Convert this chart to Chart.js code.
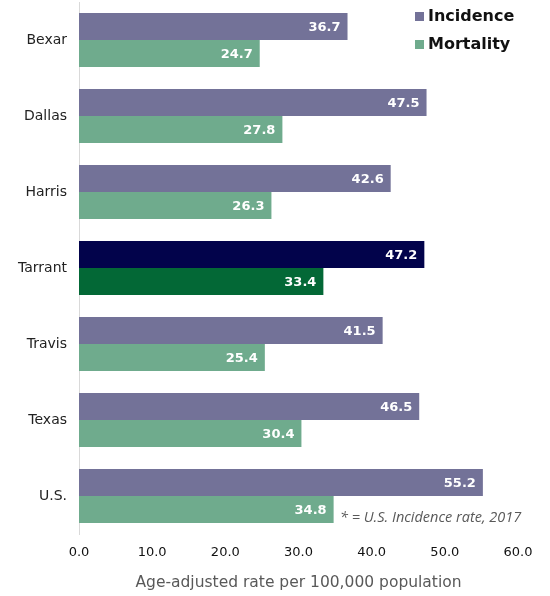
<!DOCTYPE html>
<html>
<head>
<meta charset="utf-8">
<script src="https://cdn.jsdelivr.net/npm/chart.js@4/dist/chart.umd.min.js"></script>
<style>
  html, body { margin: 0; padding: 0; background: #fff; }
  #wrap { width: 550px; height: 596px; position: relative; }
</style>
</head>
<body>
<div id="wrap"><canvas id="chart"></canvas></div>
<script>
// ===== DATA =====
const counties = ['Bexar', 'Dallas', 'Harris', 'Tarrant', 'Travis', 'Texas', 'U.S.'];
const incidence = [36.7, 47.5, 42.6, 47.2, 41.5, 46.5, 55.2];
const mortality = [24.7, 27.8, 26.3, 33.4, 25.4, 30.4, 34.8];
const xTicks = [0, 10, 20, 30, 40, 50, 60];

const FONT = '"DejaVu Sans", Verdana, sans-serif';
const highlight = 'Tarrant';
const incColors = counties.map(c => c === highlight ? '#02034b' : '#737298');
const morColors = counties.map(c => c === highlight ? '#036836' : '#6fab8d');

// white value labels inside bar ends
const valueLabels = {
    id: 'valueLabels',
    afterDatasetsDraw(chart) {
        const ctx = chart.ctx;
        ctx.save();
        ctx.fillStyle = '#fff';
        ctx.font = 'bold 13px ' + FONT;
        ctx.textAlign = 'right';
        ctx.textBaseline = 'middle';
        chart.data.datasets.forEach((ds, i) => {
            chart.getDatasetMeta(i).data.forEach((bar, j) => {
                ctx.fillText(ds.data[j].toFixed(1), bar.x - 7, bar.y + 1);
            });
        });
        ctx.restore();
    }
};

// legend + footnote
const extras = {
    id: 'extras',
    afterDraw(chart) {
        const ctx = chart.ctx;
        ctx.save();
        const items = [['Incidence', '#737298'], ['Mortality', '#6fab8d']];
        items.forEach((it, i) => {
            const y = 17 + i * 28;
            ctx.fillStyle = it[1];
            ctx.fillRect(415, y - 5, 9, 9);
            ctx.fillStyle = '#111';
            ctx.font = 'bold 16px ' + FONT;
            ctx.textBaseline = 'middle';
            ctx.textAlign = 'left';
            ctx.fillText(it[0], 428, y);
        });
        ctx.fillStyle = '#595959';
        ctx.font = 'italic 14.5px "Open Sans", "Noto Sans", sans-serif';
        ctx.textBaseline = 'middle';
        ctx.fillText('* = U.S. Incidence rate, 2017', 340, 518);
        ctx.restore();
    }
};

new Chart(document.getElementById('chart'), {
    type: 'bar',
    data: {
        labels: counties,
        datasets: [
            { label: 'Incidence', data: incidence, backgroundColor: incColors },
            { label: 'Mortality', data: mortality, backgroundColor: morColors }
        ]
    },
    options: {
        indexAxis: 'y',
        responsive: true,
        maintainAspectRatio: false,
        animation: false,
        layout: { padding: { top: 2, right: 32, left: 0, bottom: 0 } },
        datasets: { bar: { categoryPercentage: 0.71, barPercentage: 1.0 } },
        plugins: {
            legend: { display: false },
            tooltip: { enabled: false }
        },
        scales: {
            x: {
                min: 0,
                max: 60,
                afterBuildTicks(axis) { axis.ticks = xTicks.map(v => ({ value: v })); },
                afterFit(axis) { axis.height = 62; axis.paddingLeft = 0; axis.paddingRight = 0; },
                grid: { display: false, drawTicks: false },
                border: { display: false },
                ticks: {
                    color: '#111',
                    padding: 11,
                    font: { family: FONT, size: 13 },
                    callback: v => Number(v).toFixed(1)
                },
                title: {
                    display: true,
                    text: 'Age-adjusted rate per 100,000 population',
                    color: '#595959',
                    padding: { top: 19 },
                    font: { family: FONT, size: 15.5 }
                }
            },
            y: {
                afterFit(axis) { axis.width = 79; axis.paddingTop = 0; axis.paddingBottom = 0; },
                grid: { display: false, drawTicks: false },
                border: { display: true, color: '#d9d9d9', width: 1 },
                ticks: {
                    color: '#222',
                    padding: 12,
                    font: { family: FONT, size: 14 }
                }
            }
        }
    },
    plugins: [valueLabels, extras]
});
</script>
</body>
</html>
